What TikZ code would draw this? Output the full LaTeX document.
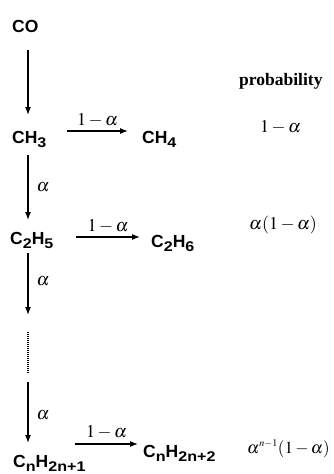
\documentclass[tikz,border=0pt]{standalone}
\usepackage{mathptmx}
\usepackage{fontspec}
\setmainfont{Liberation Serif}
\newfontfamily\chemfont{Liberation Sans}
\usetikzlibrary{arrows.meta}
\newcommand\chsub[1]{\raisebox{-0.24em}{\scalebox{1.15}[1]{\fontsize{14}{14}\selectfont #1}}}
\tikzset{
  x=1pt, y=-1pt,
  chem/.style={font=\chemfont\bfseries\fontsize{17.5}{17.5}\selectfont, inner sep=0pt, anchor=base west},
  lab/.style={font=\fontsize{18}{18}\selectfont, inner sep=0pt, anchor=base west},
  arr/.style={line width=1.1pt, -{Latex[length=8pt,width=6pt]}},
}
\begin{document}
\begin{tikzpicture}
\useasboundingbox (0,0) rectangle (333,474);
\coordinate (col) at (28,0);
% species
\node[chem] (co) at (12,32) {CO};
\node[chem] (ch3) at (12,143) {CH\chsub{3}};
\node[chem] (ch4) at (142,143) {CH\chsub{4}};
\node[chem] (c2h5) at (10,244) {C\chsub{2}H\chsub{5}};
\node[chem] (c2h6) at (151,247) {C\chsub{2}H\chsub{6}};
\node[chem] (cn) at (13,467) {C\chsub{n}H\chsub{2n+1}};
\node[chem] (cn2) at (143,457) {C\chsub{n}H\chsub{2n+2}};
% probability column
\node[lab, font=\bfseries\fontsize{17.5}{17.5}\selectfont] (prob) at (239,85) {probability};
\node[lab] (p1) at (260,132) {$1-\alpha$};
\node[lab] (p2) at (249,229) {$\alpha(1-\alpha)$};
\node[lab, font=\fontsize{17}{17}\selectfont] (p3) at (247,453) {$\alpha^{\scriptscriptstyle n-1}(1-\alpha)$};
% dots ends
\coordinate (dtop) at (28,332);
\coordinate (dbot) at (28,373);
% vertical arrows
\draw[arr] ([yshift=-18pt]co.base -| col) -- ([yshift=28pt]ch3.base -| col);
\draw[arr] ([yshift=-12pt]ch3.base -| col) -- ([yshift=24pt]c2h5.base -| col) node[lab, pos=0.5, anchor=west, xshift=8pt] (a1) {$\alpha$};
\draw[arr] ([yshift=-9pt]c2h5.base -| col) -- ([yshift=17pt]dtop) node[lab, pos=0.45, anchor=west, xshift=8pt] (a2) {$\alpha$};
\draw[line width=1.1pt, dash pattern=on 1pt off 1pt] (dtop) -- (dbot);
\draw[arr] ([yshift=-9pt]dbot) -- ([yshift=24pt]cn.base -| col) node[lab, pos=0.55, anchor=west, xshift=8pt] (a3) {$\alpha$};
% horizontal arrows
\draw[arr] ([xshift=55pt]ch3.base west |- 0,131) -- ([xshift=-14pt]ch4.base west |- 0,131) node[lab, midway, anchor=base, yshift=6pt] (h1) {$1-\alpha$};
\draw[arr] ([xshift=66pt]c2h5.base west |- 0,237) -- ([xshift=-11pt]c2h6.base west |- 0,237) node[lab, midway, anchor=base, yshift=6pt] (h2) {$1-\alpha$};
\draw[arr] ([xshift=62pt]cn.base west |- 0,444) -- ([xshift=-5pt]cn2.base west |- 0,444) node[lab, midway, anchor=base, yshift=7pt] (h3) {$1-\alpha$};
\end{tikzpicture}
\end{document}
